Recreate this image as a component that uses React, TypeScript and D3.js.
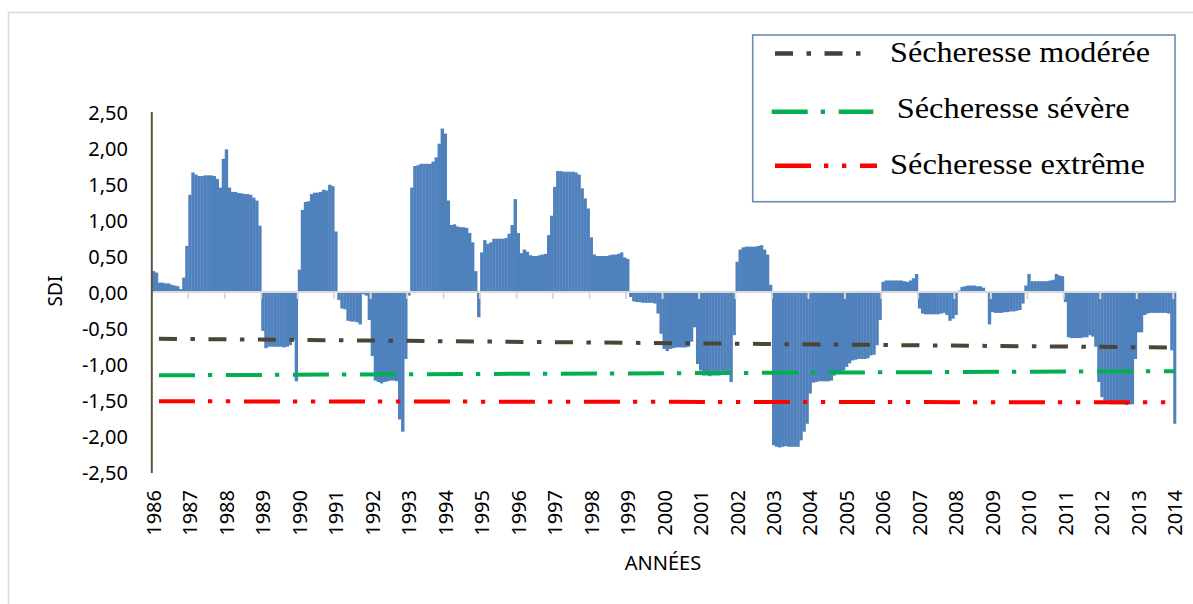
import React from 'react';
import * as d3 from 'd3';

// Monthly SDI values, Jan 1986 .. Jan 2014 (one row per year)
const SDI_VALUES: number[] = [
  0.29, 0.27, 0.13, 0.13, 0.12, 0.12, 0.10, 0.09, 0.08, 0.04, 0.20, 0.64,
  1.35, 1.66, 1.63, 1.61, 1.61, 1.62, 1.62, 1.62, 1.61, 1.57, 1.45, 1.85,
  1.98, 1.45, 1.39, 1.39, 1.375, 1.37, 1.36, 1.36, 1.35, 1.31, 1.27, 0.92,
  -0.54, -0.78, -0.76, -0.76, -0.76, -0.76, -0.76, -0.77, -0.76, -0.74, -0.67, -1.24,
  0.31, 1.14, 1.25, 1.26, 1.36, 1.38, 1.38, 1.39, 1.42, 1.41, 1.49, 1.47,
  0.84, -0.11, -0.23, -0.24, -0.40, -0.41, -0.41, -0.42, -0.45, -0.03, -0.05, -0.39,
  -0.89, -1.23, -1.25, -1.27, -1.25, -1.24, -1.23, -1.23, -1.24, -1.77, -1.94, -0.93,
  -0.05, 1.45, 1.75, 1.76, 1.78, 1.78, 1.78, 1.78, 1.81, 1.87, 2.06, 2.27,
  2.20, 1.27, 0.93, 0.94, 0.91, 0.90, 0.90, 0.89, 0.82, 0.69, 0.29, -0.35,
  0.55, 0.72, 0.67, 0.69, 0.74, 0.74, 0.74, 0.74, 0.75, 0.81, 0.93, 1.29,
  0.82, 0.54, 0.59, 0.56, 0.51, 0.50, 0.50, 0.51, 0.52, 0.53, 0.79, 1.06,
  1.46, 1.68, 1.68, 1.67, 1.67, 1.67, 1.67, 1.66, 1.63, 1.44, 1.30, 1.16,
  0.76, 0.52, 0.50, 0.50, 0.50, 0.50, 0.51, 0.52, 0.52, 0.53, 0.55, 0.48,
  0.46, -0.07, -0.13, -0.14, -0.14, -0.15, -0.15, -0.15, -0.15, -0.16, -0.30, -0.58,
  -0.79, -0.82, -0.79, -0.78, -0.77, -0.77, -0.77, -0.77, -0.76, -0.69, -0.49, -1.00,
  -1.09, -1.16, -1.16, -1.17, -1.16, -1.16, -1.16, -1.15, -1.15, -1.14, -1.25, -0.60,
  0.42, 0.59, 0.62, 0.63, 0.63, 0.63, 0.63, 0.64, 0.65, 0.59, 0.52, 0.10,
  -2.13, -2.15, -2.16, -2.15, -2.14, -2.15, -2.15, -2.15, -2.15, -2.06, -1.94, -1.83,
  -1.41, -1.26, -1.25, -1.24, -1.24, -1.24, -1.24, -1.23, -1.16, -1.13, -1.12, -1.09,
  -1.04, -0.99, -0.95, -0.94, -0.93, -0.93, -0.93, -0.92, -0.88, -0.87, -0.74, -0.39,
  0.14, 0.16, 0.16, 0.16, 0.16, 0.16, 0.16, 0.15, 0.14, 0.16, 0.19, 0.25,
  -0.23, -0.30, -0.31, -0.31, -0.31, -0.31, -0.31, -0.30, -0.29, -0.32, -0.40, -0.37,
  -0.32, 0.02, 0.07, 0.08, 0.09, 0.09, 0.09, 0.08, 0.08, 0.06, 0.01, -0.45,
  -0.28, -0.29, -0.29, -0.29, -0.28, -0.28, -0.27, -0.27, -0.26, -0.25, -0.16, 0.09,
  0.25, 0.15, 0.15, 0.15, 0.15, 0.15, 0.15, 0.16, 0.17, 0.25, 0.23, 0.22,
  -0.14, -0.63, -0.64, -0.64, -0.64, -0.64, -0.63, -0.63, -0.60, -0.62, -0.76, -1.25,
  -1.46, -1.54, -1.55, -1.56, -1.56, -1.56, -1.56, -1.56, -1.57, -1.56, -1.56, -0.93,
  -0.56, -0.56, -0.32, -0.30, -0.29, -0.29, -0.29, -0.29, -0.29, -0.29, -0.30, -0.81,
  -1.83,
];

const YEAR_LABELS: string[] = d3.range(1986, 2015).map(String);
const Y_TICKS: number[] = [2.5, 2, 1.5, 1, 0.5, 0, -0.5, -1, -1.5, -2, -2.5];

const THRESHOLD_NAMES: string[] = ['Sécheresse modérée', 'Sécheresse sévère', 'Sécheresse extrême'];
// threshold trend lines: value at the start month and at the end month
const THRESHOLD_START: number[] = [-0.649, -1.157, -1.518];
const THRESHOLD_END: number[] = [-0.771, -1.099, -1.533];
const THRESHOLD_FROM_MONTH = 2.35;
const THRESHOLD_TO_MONTH = 336.6;

const THRESHOLD_COLORS = ['#4a4634', '#00b050', '#ff0000'];
const THRESHOLD_LEGEND_COLORS = ['#404040', '#00b050', '#ff0000'];
const THRESHOLD_DASH = ['18 13.5 4.5 13.5', '36 13 4.3 13.7', '36 13 4.3 13.7 4.3 13.7'];

export default function App() {
  const W = 1193;
  const H = 604;
  const N = SDI_VALUES.length;
  const plotLeft = 151.8;
  const plotRight = 1176.3;
  const plotTop = 112;
  const plotBottom = 472;

  const x = d3.scaleBand<number>().domain(d3.range(N)).range([plotLeft, plotRight]).padding(0);
  const xm = d3.scaleLinear().domain([0, N]).range([plotLeft, plotRight]);
  const y = d3.scaleLinear().domain([-2.5, 2.5]).range([plotBottom, plotTop]);
  const bw = x.bandwidth();
  const y0 = y(0);

  const line = d3
    .line<[number, number]>()
    .x((d) => xm(d[0]))
    .y((d) => y(d[1]));

  const fmt = (v: number) => v.toFixed(2).replace('.', ',');
  const axisFont = "'Noto Sans', 'Open Sans', sans-serif";
  const legendFont = "'Liberation Serif', 'Times New Roman', serif";

  const legendX = 752.7;
  const legendY = 35;
  const legendW = 422.3;
  const legendH = 166.7;
  const legendRows = [
    { ly: 53.5, lx1: 775, lx2: 863, tx: 890, ty: 61.7, tl: 260 },
    { ly: 111.7, lx1: 771.7, lx2: 873.3, tx: 896.7, ty: 118.3, tl: 233 },
    { ly: 165.7, lx1: 775, lx2: 877, tx: 890, ty: 174, tl: 255 },
  ];

  return (
    <svg
      width={W}
      height={H}
      style={{ position: 'absolute', left: 0, top: 0, background: '#ffffff' }}
    >
      <rect x={0} y={0} width={W} height={H} fill="#ffffff" />
      {/* outer chart border (only left/top visible) */}
      <rect x={8.5} y={12.5} width={1300} height={700} fill="none" stroke="#d9d9d9" strokeWidth={1.5} />

      {/* bars */}
      <g>
        {SDI_VALUES.map((v, i) => (
          <rect
            key={i}
            x={x(i)}
            y={Math.min(y(v), y0)}
            width={bw + (i < N - 1 ? 0.35 : 0)}
            height={Math.abs(y(v) - y0)}
            fill="#4f81bd"
          />
        ))}
      </g>

      {/* x axis (zero line) */}
      <line x1={plotLeft} x2={plotRight} y1={y0} y2={y0} stroke="#d9d9d9" strokeWidth={2} />
      {d3.range(1, YEAR_LABELS.length).map((k) => (
        <line
          key={k}
          x1={x(k * 12)}
          x2={x(k * 12)}
          y1={y0}
          y2={y0 + 7}
          stroke="#d9d9d9"
          strokeWidth={2}
        />
      ))}

      {/* y axis */}
      <line x1={plotLeft} x2={plotLeft} y1={plotTop} y2={plotBottom + 1} stroke="#5b5640" strokeWidth={2} />
      {Y_TICKS.map((t) => (
        <text
          key={t}
          x={128}
          y={y(t)}
          textAnchor="end"
          dominantBaseline="central"
          fontFamily={axisFont}
          fontSize={20}
          fill="#000"
        >
          {fmt(t)}
        </text>
      ))}

      {/* year labels */}
      {YEAR_LABELS.map((lab, k) => {
        const cx = (x(k * 12) as number) + bw / 2;
        return (
          <text
            key={lab}
            transform={`translate(${cx},490) rotate(-90)`}
            textAnchor="end"
            dominantBaseline="central"
            fontFamily={axisFont}
            fontSize={20}
            fill="#000"
          >
            {lab}
          </text>
        );
      })}

      {/* threshold lines */}
      {THRESHOLD_NAMES.map((name, k) => (
        <path
          key={name}
          d={
            line([
              [THRESHOLD_FROM_MONTH, THRESHOLD_START[k]],
              [THRESHOLD_TO_MONTH, THRESHOLD_END[k]],
            ]) as string
          }
          fill="none"
          stroke={THRESHOLD_COLORS[k]}
          strokeWidth={4}
          strokeDasharray={THRESHOLD_DASH[k]}
        />
      ))}

      {/* axis titles */}
      <text
        transform={`translate(55,291) rotate(-90)`}
        textAnchor="middle"
        dominantBaseline="central"
        fontFamily={axisFont}
        fontSize={19}
        fill="#000"
      >
        SDI
      </text>
      <text
        x={663}
        y={562}
        textAnchor="middle"
        dominantBaseline="central"
        fontFamily={axisFont}
        fontSize={20}
        fill="#000"
      >
        ANNÉES
      </text>

      {/* legend */}
      <rect
        x={legendX}
        y={legendY}
        width={legendW}
        height={legendH}
        fill="#ffffff"
        stroke="#6d8ab5"
        strokeWidth={1.6}
      />
      {THRESHOLD_NAMES.map((name, k) => {
        const r = legendRows[k];
        return (
          <g key={name}>
            <line
              x1={r.lx1}
              x2={r.lx2}
              y1={r.ly}
              y2={r.ly}
              stroke={THRESHOLD_LEGEND_COLORS[k]}
              strokeWidth={4.5}
              strokeDasharray={THRESHOLD_DASH[k]}
            />
            <text
              x={r.tx}
              y={r.ty}
              fontFamily={legendFont}
              fontSize={29}
              fill="#000"
              textLength={r.tl}
              lengthAdjust="spacingAndGlyphs"
            >
              {name}
            </text>
          </g>
        );
      })}
    </svg>
  );
}
